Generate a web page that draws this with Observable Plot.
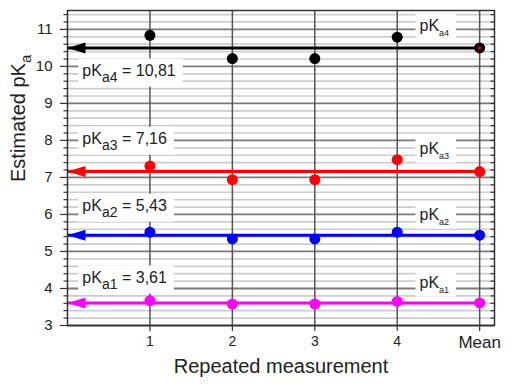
<!DOCTYPE html>
<html><head><meta charset="utf-8">
<script src="https://cdn.jsdelivr.net/npm/d3@7"></script>
<script src="https://cdn.jsdelivr.net/npm/@observablehq/plot@0.6"></script>
<style>body{margin:0;background:#fff;} svg{display:block}</style>
</head><body><div id="chart"></div>
<script>
// x positions: 1..4 repeated measurements, 5 = Mean
const measurement = [1, 2, 3, 4, 5];
const xTickLabels = ["1", "2", "3", "4", "Mean"];
const yTicks = [3, 4, 5, 6, 7, 8, 9, 10, 11];

const pKa1 = [3.67, 3.58, 3.58, 3.65, 3.61];
const pKa2 = [5.52, 5.34, 5.34, 5.52, 5.44];
const pKa3 = [7.31, 6.94, 6.94, 7.48, 7.16];
const pKa4 = [10.84, 10.21, 10.21, 10.79, 10.50];
const seriesValues = [pKa1, pKa2, pKa3, pKa4];
const seriesColors = ["#ff00ff", "#0000ff", "#ff0000", "#000000"];

const meanLabels = ["pK_{a1} = 3,61", "pK_{a2} = 5,43", "pK_{a3} = 7,16", "pK_{a4} = 10,81"];
const seriesLabels = ["pK_{a1}", "pK_{a2}", "pK_{a3}", "pK_{a4}"];
const meanLabelX = 0.18;
const meanLabelY = [4.30, 6.24, 8.05, 9.89];
const seriesLabelX = 4.27;
const seriesLabelY = [4.16, 6.0, 7.78, 11.1];

const xDomain = [0, 5.18];
const yDomain = [3, 11.51];

const points = seriesValues.flatMap((vals, s) => vals.map((v, i) => ({x: measurement[i], y: v, s})));
const means = seriesValues.map((vals, s) => ({y: vals[4], x: measurement[4], s}));
const minorTicks = d3.range(30, 116, 2).map(v => v / 10).filter(v => !Number.isInteger(v));
const allTicks = d3.range(30, 116, 2).map(v => v / 10);

const leftArrowHead = {
  draw(ctx) { ctx.moveTo(0, 0); ctx.lineTo(18, -5.5); ctx.lineTo(18, 5.5); ctx.closePath(); }
};
// short tick drawn to the left of the anchor point
const tickLeft4 = {
  draw(ctx) { ctx.moveTo(-4, 0); ctx.lineTo(0, 0); }
};

const font = "'Liberation Sans', Arial, sans-serif";
const xFmt = d => xTickLabels[measurement.indexOf(d)];

const svg = Plot.plot({
  width: 512,
  height: 387,
  marginLeft: 67,
  marginRight: 18,
  marginTop: 10,
  marginBottom: 62,
  style: {fontFamily: font, background: "#fff", color: "#222"},
  x: {domain: xDomain, axis: null},
  y: {domain: yDomain, axis: null},
  marks: [
    Plot.ruleY(minorTicks, {stroke: "#cdcdcd", strokeWidth: 1.7}),
    Plot.ruleY(yTicks, {stroke: "#7a7a7a", strokeWidth: 1.8}),
    Plot.ruleX(measurement, {stroke: "#555", strokeWidth: 1.5}),
    Plot.text(meanLabels, {x: () => meanLabelX, y: (d, i) => meanLabelY[i], text: d => d, textAnchor: "start", fontSize: 16, fill: "#222"}),
    Plot.text(seriesLabels, {x: () => seriesLabelX, y: (d, i) => seriesLabelY[i], text: d => d, textAnchor: "start", fontSize: 16, fill: "#222"}),
    Plot.ruleY(means, {y: "y", x1: 0, x2: "x", stroke: d => seriesColors[d.s], strokeWidth: 3}),
    Plot.dot(means, {x: 0, y: "y", symbol: leftArrowHead, fill: d => seriesColors[d.s], stroke: "none"}),
    Plot.dot(points, {x: "x", y: "y", r: 5.5, fill: d => seriesColors[d.s], stroke: "none"}),
    Plot.dot([means[3]], {x: "x", y: "y", r: 1.6, fill: "#ff0000"}),
    Plot.frame({stroke: "#333", strokeWidth: 1.5}),
    Plot.dot(minorTicks, {x: () => xDomain[0], y: d => d, symbol: tickLeft4, stroke: "#333", fill: "none", strokeWidth: 1.2}),
    Plot.dot(allTicks, {x: () => xDomain[1], y: d => d, symbol: tickLeft4, stroke: "#333", fill: "none", strokeWidth: 1.2}),
    Plot.axisY(yTicks, {anchor: "left", tickSize: 7, tickPadding: 8, fontSize: 15, label: null, stroke: "#333", fill: "#222", strokeWidth: 1.2}),
    Plot.axisX(measurement.slice(0, 4), {anchor: "bottom", tickSize: 6, tickPadding: 5, fontSize: 14, label: null, stroke: "#333", fill: "#222", strokeWidth: 1.2, tickFormat: xFmt}),
    Plot.axisX(measurement.slice(4), {anchor: "bottom", tickSize: 6, tickPadding: 4, fontSize: 17, label: null, stroke: "#333", fill: "#222", strokeWidth: 1.2, tickFormat: xFmt}),
    Plot.text(["Repeated measurement"], {frameAnchor: "bottom", text: d => d, dy: 47, fontSize: 20, fill: "#222"}),
    Plot.text(["Estimated pK_{a}"], {frameAnchor: "left", text: d => d, dx: -49, dy: 14, rotate: -90, fontSize: 20, fill: "#222"})
  ]
});

document.getElementById("chart").appendChild(svg);

const NS = "http://www.w3.org/2000/svg";
function subscriptify(el, subSize, shift) {
  const t = el.textContent;
  const m = t.match(/^(.*?)_\{(.*?)\}(.*)$/);
  if (!m) return;
  while (el.firstChild) el.removeChild(el.firstChild);
  const a = document.createElementNS(NS, "tspan"); a.textContent = m[1]; el.appendChild(a);
  const b = document.createElementNS(NS, "tspan"); b.textContent = m[2];
  b.setAttribute("font-size", subSize); b.setAttribute("dy", shift); el.appendChild(b);
  if (m[3]) {
    const c = document.createElementNS(NS, "tspan"); c.textContent = m[3];
    c.setAttribute("dy", -shift); el.appendChild(c);
  }
}

svg.querySelectorAll("text").forEach(el => {
  const t = el.textContent;
  if (!t.includes("_{")) return;
  const isLabel = t.startsWith("pK");
  if (t.startsWith("Estimated")) subscriptify(el, 15, 6);
  else if (t.includes("=")) subscriptify(el, 14, 6);
  else subscriptify(el, 9, 5);
  if (isLabel) {
    const bb = el.getBBox();
    const r = document.createElementNS(NS, "rect");
    r.setAttribute("x", bb.x - 4);
    r.setAttribute("y", bb.y - 3);
    r.setAttribute("width", bb.width + 11);
    r.setAttribute("height", bb.height + 5);
    r.setAttribute("fill", "#fff");
    const tr = el.getAttribute("transform");
    if (tr) r.setAttribute("transform", tr);
    el.parentNode.insertBefore(r, el);
  }
});
</script>
</body></html>
